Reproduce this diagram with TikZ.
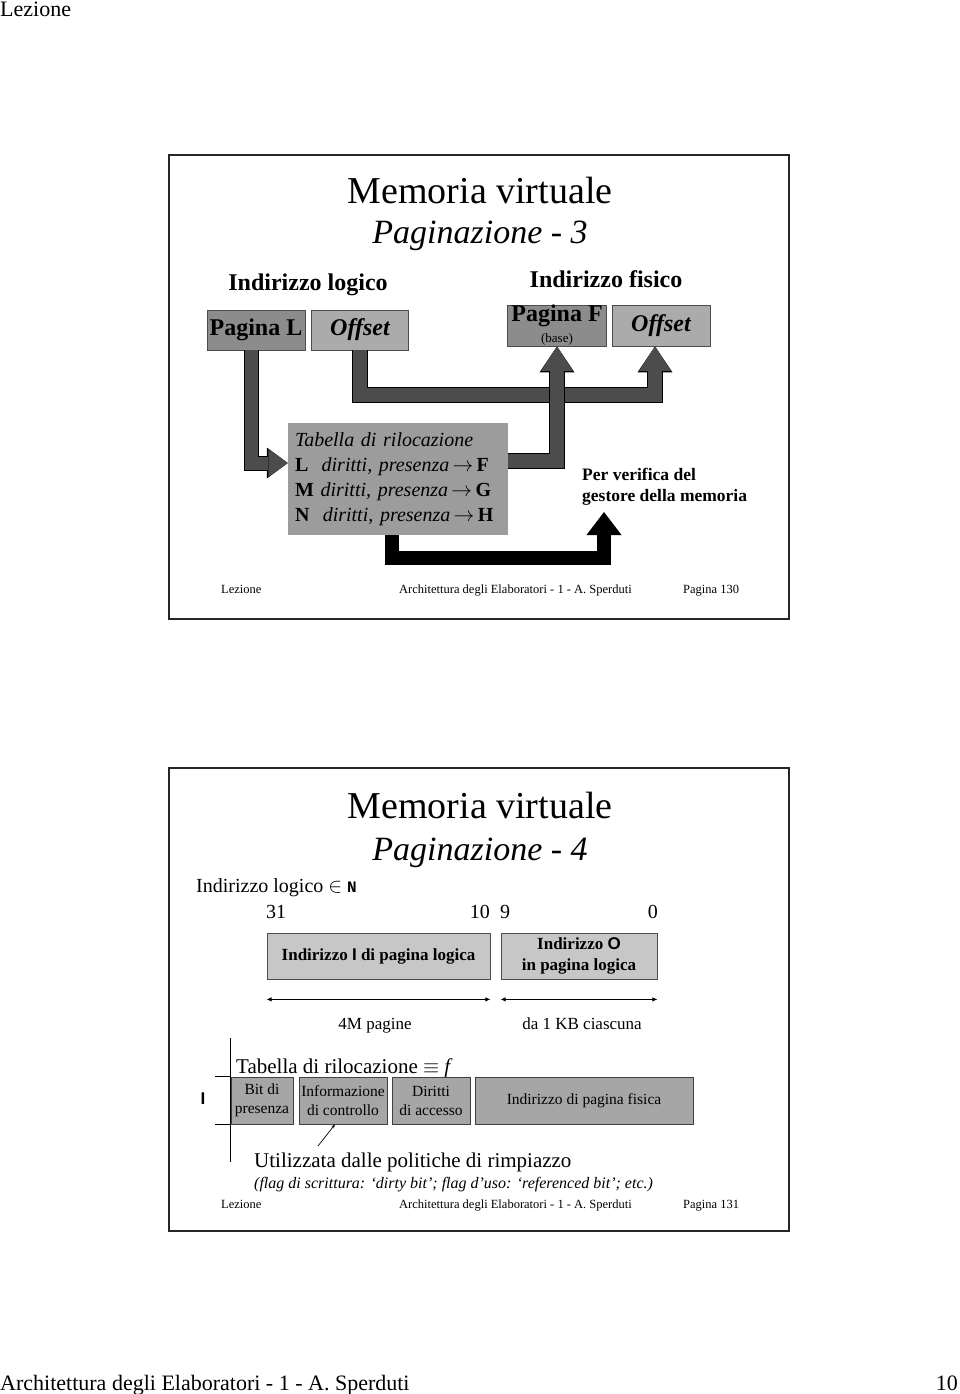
\documentclass[tikz,border=0pt]{standalone}
\usepackage{fontspec}
\setmainfont{Liberation Serif}
\setsansfont{Liberation Sans}
\setmonofont{Liberation Mono}
\usetikzlibrary{arrows.meta}
\definecolor{boxdark}{gray}{0.55}
\definecolor{boxlight}{gray}{0.67}
\definecolor{tabgray}{gray}{0.61}
\definecolor{arrowgray}{gray}{0.30}
\definecolor{fieldgray}{gray}{0.78}
\definecolor{rowgray}{gray}{0.65}
\newcommand{\fsz}[2]{\fontsize{#1}{#2}\selectfont}

\begin{document}
\begin{tikzpicture}[x=1pt,y=-1pt,
  every node/.style={inner sep=0pt},
  slide/.style={draw=black!85, line width=2.4pt},
  addrbox/.style={draw=black!70, line width=0.8pt, minimum height=40pt, font=\fsz{24}{26}\bfseries},
  blockout/.style={draw=black, line width=16pt, -{Triangle[length=26pt,width=35pt,line width=0pt]}},
  blockin/.style={draw=arrowgray, line width=14pt, -{Triangle[length=24.5pt,width=32pt,line width=0pt]}},
  smallout/.style={draw=black, line width=15pt, -{Triangle[length=21pt,width=31pt,line width=0pt]}},
  smallin/.style={draw=arrowgray, line width=13pt, -{Triangle[length=19.5pt,width=28pt,line width=0pt]}},
  blackarrow/.style={draw=black, line width=14pt, -{Triangle[length=23pt,width=35pt,line width=0pt]}},
  field/.style={draw=black!70, line width=0.8pt, fill=fieldgray, minimum height=46pt, align=center, font=\fsz{17}{21}\bfseries},
  rowbox/.style={draw=black!75, line width=0.8pt, fill=rowgray, minimum height=47pt, align=center, font=\fsz{15.5}{19}},
  span/.style={line width=0.8pt, {Latex[length=5pt,width=4.5pt]}-{Latex[length=5pt,width=4.5pt]}},
  foot/.style={anchor=base west, font=\fsz{12.5}{15}}]
\useasboundingbox (0,0) rectangle (960,1394);

% page header and footer
\node[anchor=base west, font=\fsz{22}{26}] (hdr) at (0,17) {Lezione};
\node[anchor=base west, font=\fsz{22}{26}] (ftr) at (0,1390) {Architettura degli Elaboratori - 1 - A. Sperduti};
\node[anchor=base east, font=\fsz{22}{26}] (pgno) at (958,1390) {10};

% slide 130
\draw[slide] (169,155) rectangle (789,619);
\node[anchor=base, font=\fsz{38}{44}] (tit1) at (480,203) {Memoria virtuale};
\node[anchor=base, font=\fsz{34}{40}\itshape] (sub1) at (480,243) {Paginazione - 3};
\node[anchor=base, font=\fsz{24}{28}\bfseries] (lablog) at (308,290) {Indirizzo logico};
\node[anchor=base, font=\fsz{24}{28}\bfseries] (labfis) at (606,287) {Indirizzo fisico};
\node[addrbox, fill=boxdark, minimum width=98pt] (pagL) at (256,330) {Pagina L};
\node[addrbox, fill=boxlight, minimum width=97pt, font=\fsz{24}{26}\bfseries\itshape] (offL) at (360,330) {Offset};
\node[addrbox, fill=boxdark, minimum width=99pt, minimum height=41pt, align=center] (pagF) at (557,325.5) {Pagina F\\[-5pt]{\fsz{13}{13}\mdseries (base)}};
\node[addrbox, fill=boxlight, minimum width=98pt, minimum height=41pt, font=\fsz{24}{26}\bfseries\itshape] (offR) at (661,325.5) {Offset};
\node[fill=tabgray, minimum width=220pt, minimum height=112pt, inner xsep=7pt, text width=206pt, align=left, font=\fsz{20}{25}] (tab) at (398,479)
  {\textit{Tabella di rilocazione}\\
   \textbf{L}\ \ \textit{diritti, presenza}\,$\rightarrow$\,\textbf{F}\\
   \textbf{M} \textit{diritti, presenza}\,$\rightarrow$\,\textbf{G}\\
   \textbf{N}\ \ \textit{diritti, presenza}\,$\rightarrow$\,\textbf{H}};
\node[anchor=north west, align=left, font=\fsz{17.5}{20.5}\bfseries] (memo) at (582,468) {Per verifica del\\gestore della memoria};
\coordinate (memtip) at (604,512);

\draw[blockout] (offL.south) -- ++(0,45) -| ([xshift=-6pt]offR.south);
\draw[blockin] (offL.south) -- ++(0,45) -| ([xshift=-6pt]offR.south);
\draw[smallout] ([xshift=-5pt]pagL.south) |- ([yshift=16pt]tab.west);
\draw[smallin] ([xshift=-5pt]pagL.south) |- ([yshift=16pt]tab.west);
\draw[blockout] ([yshift=18pt]tab.east) -| (pagF.south);
\draw[blockin] ([yshift=18pt]tab.east) -| (pagF.south);
\draw[blackarrow] ([xshift=-6pt]tab.south) -- ++(0,23) -| (memtip);

\node[foot] (lez1) at (221,593) {Lezione};
\node[foot] (arc1) at (399,593) {Architettura degli Elaboratori - 1 - A. Sperduti};
\node[foot] (pag1) at (683,593) {Pagina 130};

% slide 131
\draw[slide] (169,768) rectangle (789,1231);
\node[anchor=base, font=\fsz{38}{44}] (tit2) at (480,818) {Memoria virtuale};
\node[anchor=base, font=\fsz{34}{40}\itshape] (sub2) at (480,860) {Paginazione - 4};
\node[anchor=base west, font=\fsz{20}{24}] (ilog) at (196,892) {Indirizzo logico $\in$ {\ttfamily\bfseries\fsz{16}{18}N}};
\node[anchor=base west, font=\fsz{20}{24}] (b31) at (266,918) {31};
\node[anchor=base east, font=\fsz{20}{24}] (b10) at (490,918) {10};
\node[anchor=base west, font=\fsz{20}{24}] (b9) at (500,918) {9};
\node[anchor=base east, font=\fsz{20}{24}] (b0) at (658,918) {0};
\node[field, minimum width=223pt] (fpage) at (378.5,956) {Indirizzo \textsf{I} di pagina logica};
\node[field, minimum width=156pt] (foff) at (579,956) {Indirizzo \textsf{O}\\in pagina logica};
\draw[span] ([yshift=-20pt]fpage.south west) -- ([yshift=-20pt]fpage.south east);
\draw[span] ([yshift=-20pt]foff.south west) -- ([yshift=-20pt]foff.south east);
\node[anchor=base, font=\fsz{17}{20}] (npag) at (375,1029) {4M pagine};
\node[anchor=base, font=\fsz{17}{20}] (nkb) at (582,1029) {da 1 KB ciascuna};

\coordinate (rtop) at (230,1038);
\coordinate (rbot) at (230,1162);
\draw[line width=0.8pt] (rtop) -- (rbot);
\node[anchor=base west, font=\fsz{21}{25}] (tabf) at (236,1073) {Tabella di rilocazione $\equiv$ \textit{f}};
\node[rowbox, minimum width=62pt] (bitp) at (262,1100.5) {Bit di\\presenza};
\node[rowbox, minimum width=88pt] (info) at (343,1100.5) {Informazione\\di controllo};
\node[rowbox, minimum width=78pt] (dirt) at (431,1100.5) {Diritti\\di accesso};
\node[rowbox, minimum width=218pt] (fis) at (584,1100.5) {Indirizzo di pagina fisica};
\draw[line width=0.8pt] (bitp.north west) -- ++(-16,0);
\draw[line width=0.8pt] (bitp.south west) -- ++(-16,0);
\node[font=\fsz{17}{20}\sffamily\bfseries] (rowI) at (203,1099) {I};
\coordinate (ptr) at (318,1146);
\draw[line width=0.7pt, -{Stealth[length=4pt,width=3pt]}] (ptr) -- ([xshift=-8pt]info.south);
\node[anchor=base west, font=\fsz{21}{25}] (util) at (254,1167) {Utilizzata dalle politiche di rimpiazzo};
\node[anchor=base west, font=\fsz{16}{19}\itshape] (flags) at (254,1188) {(flag di scrittura: ‘dirty bit’; flag d’uso: ‘referenced bit’; etc.)};

\node[foot] (lez2) at (221,1208) {Lezione};
\node[foot] (arc2) at (399,1208) {Architettura degli Elaboratori - 1 - A. Sperduti};
\node[foot] (pag2) at (683,1208) {Pagina 131};
\end{tikzpicture}
\end{document}
